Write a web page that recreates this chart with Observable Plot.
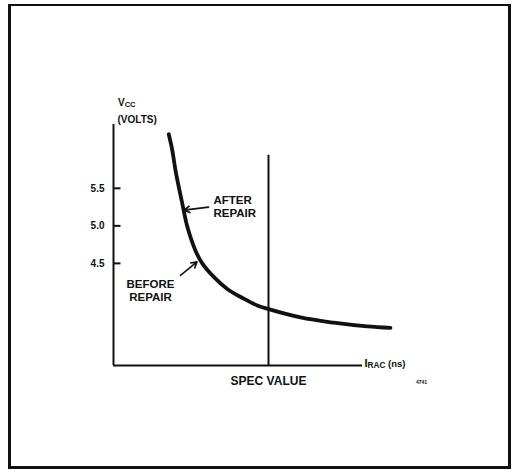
<!DOCTYPE html>
<html>
<head>
<meta charset="utf-8">
<script src="https://cdn.jsdelivr.net/npm/d3@7"></script>
<script src="https://cdn.jsdelivr.net/npm/@observablehq/plot@0.6"></script>
<style>
  html, body { margin: 0; padding: 0; background: #fff; }
  #wrap { position: relative; width: 515px; height: 470px; overflow: hidden; }
  #frame { position: absolute; left: 8px; top: 4px; width: 497px; height: 460px; border: 3px solid #111; border-top-width: 2px; pointer-events: none; }
  #chart { position: absolute; left: 0; top: 0; }
</style>
</head>
<body>
<div id="wrap"><div id="chart"></div><div id="frame"></div></div>
<script>
// Curve: access time tRAC (arbitrary ns units) vs. Vcc (volts)
const tRac = [22.1, 23.5, 24.8, 26.1, 27.5, 29.6, 32.8, 35.5, 40.1, 45.5, 52.1, 57.5, 62.1, 74.8, 88.1, 101.5, 110.8];
const vcc  = [6.22, 6.01, 5.74, 5.52, 5.30, 4.98, 4.67, 4.50, 4.32, 4.16, 4.03, 3.94, 3.89, 3.78, 3.71, 3.66, 3.64];
const yTicks = [4.5, 5.0, 5.5];
const yTickLabels = ["4.5", "5.0", "5.5"];
const specValue = 62;
const axisMinY = 3.14;
const axisMaxY = 6.35;
const axisMaxX = 99.6;

const curve = tRac.map((t, i) => ({t, v: vcc[i]}));
const tickRows = yTicks.map((v, i) => ({v, label: yTickLabels[i]}));

const font = "'Liberation Sans', Arial, sans-serif";

const plot = Plot.plot({
  width: 515,
  height: 470,
  marginLeft: 113,
  marginRight: 2,
  marginTop: 124,
  marginBottom: 105,
  x: {domain: [0, 160], axis: null},
  y: {domain: [axisMinY, axisMaxY], axis: null},
  style: {fontFamily: font, fontWeight: "bold", color: "#111", background: "transparent"},
  marks: [
    // axes
    Plot.ruleX([0], {y1: axisMinY, y2: axisMaxY, stroke: "#111", strokeWidth: 2}),
    Plot.ruleY([axisMinY], {x1: 0, x2: axisMaxX, stroke: "#111", strokeWidth: 2}),
    // y ticks (inward)
    Plot.ruleY(tickRows, {y: "v", x1: 0, x2: 3, stroke: "#111", strokeWidth: 2}),
    Plot.text(tickRows, {y: "v", x: 0, text: "label", dx: -9, textAnchor: "end", fontSize: 10, fontWeight: "bold", fill: "#111"}),
    // spec value line
    Plot.ruleX([specValue], {y1: axisMinY, y2: 5.94, stroke: "#111", strokeWidth: 2}),
    // curve
    Plot.line(curve, {x: "t", y: "v", curve: "catmull-rom", stroke: "#111", strokeWidth: 3.8, strokeLinecap: "round"}),
    // annotations
    Plot.text(["AFTER\nREPAIR"], {x: 40, y: 5.26, text: d => d, textAnchor: "start", fontSize: 11.5, lineHeight: 1.15, fontWeight: "bold", fill: "#111"}),
    Plot.arrow([{x1: 38, y1: 5.25, x2: 28.2, y2: 5.21}], {x1: "x1", y1: "y1", x2: "x2", y2: "y2", stroke: "#111", strokeWidth: 1.6, headLength: 6}),
    Plot.text(["BEFORE\nREPAIR"], {x: 14.8, y: 4.14, text: d => d, textAnchor: "middle", fontSize: 11.5, lineHeight: 1.15, fontWeight: "bold", fill: "#111"}),
    Plot.arrow([{x1: 26.8, y1: 4.34, x2: 33.4, y2: 4.52}], {x1: "x1", y1: "y1", x2: "x2", y2: "y2", stroke: "#111", strokeWidth: 1.6, headLength: 6}),
    Plot.text(["SPEC VALUE"], {x: specValue, y: axisMinY, dy: 16, text: d => d, textAnchor: "middle", fontSize: 12, fontWeight: "bold", fill: "#111"}),
    Plot.text(["4741"], {x: 121, y: axisMinY, dy: 17, text: d => d, textAnchor: "start", fontSize: 5, fontWeight: "bold", fill: "#111"}),
    Plot.text(["(VOLTS)"], {x: 1.6, y: 6.41, text: d => d, textAnchor: "start", fontSize: 10, fontWeight: "bold", fill: "#111"})
  ]
});

document.getElementById("chart").appendChild(plot);

// Subscripted labels added as real text via the chart's own scales
const svg = d3.select(plot);
const xs = plot.scale("x"), ys = plot.scale("y");
function subLabel(main, sub, x, y, size) {
  const t = svg.append("text")
    .attr("x", xs.apply(x)).attr("y", ys.apply(y))
    .attr("text-anchor", "start")
    .attr("font-family", font).attr("font-weight", "bold").attr("font-size", size)
    .attr("fill", "#111").attr("dominant-baseline", "middle");
  t.append("tspan").text(main);
  t.append("tspan").attr("font-size", size * 0.75).attr("dy", "0.25em").text(sub);
  return t;
}
subLabel("V", "CC", 2, 6.63, 10);
const ir = subLabel("I", "RAC", 100.6, axisMinY + 0.01, 11);
ir.append("tspan").attr("dy", "-0.25em").attr("font-size", 9.5).text(" (ns)");
</script>
</body>
</html>
